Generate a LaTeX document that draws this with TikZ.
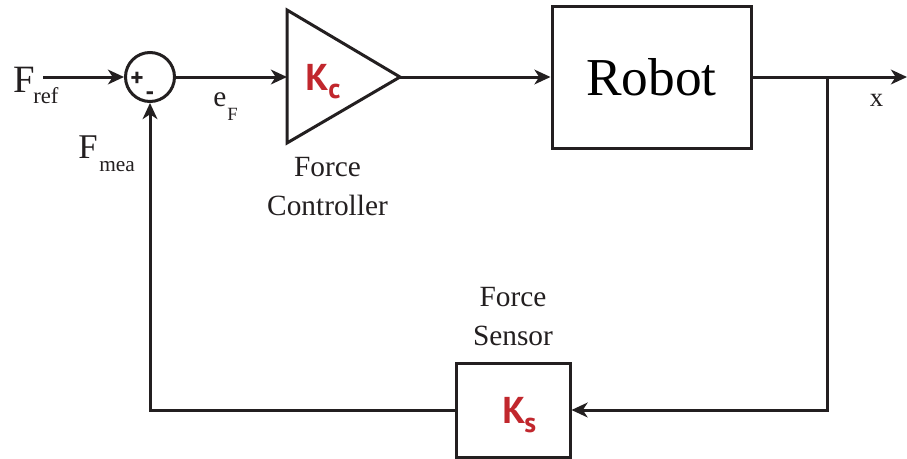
\documentclass[tikz,border=0pt]{standalone}
\usepackage{fontspec}
\setmainfont{Liberation Serif}
\newfontfamily\ksans{PT Sans}
\usetikzlibrary{arrows.meta}
\definecolor{kred}{HTML}{C1272D}
\definecolor{ink}{HTML}{231F20}
\begin{document}
\begin{tikzpicture}[x=0.75pt,y=-0.75pt,
  wire/.style={line width=2.25pt, draw=ink},
  arr/.style={wire,-{Stealth[length=12pt,width=11pt,inset=3.5pt]}},
  blk/.style={draw=ink, line width=2.25pt, fill=white, inner sep=0pt},
  lbl/.style={inner sep=0pt, anchor=base west, text=ink},
  captxt/.style={inner sep=0pt, anchor=base, text=ink, font=\fontsize{22}{22}\selectfont},
  gain/.style={text=kred, font=\ksans\bfseries\fontsize{28}{28}\selectfont, inner sep=0pt, anchor=base west},
  gsub/.style={text=kred, font=\ksans\bfseries\fontsize{21}{21}\selectfont, inner sep=0pt, anchor=base west},
  sign/.style={text=ink, font=\ksans\bfseries\fontsize{19}{19}\selectfont, inner sep=0pt}]
\useasboundingbox (0,0) rectangle (907,458);
\fill[white] (0,0) rectangle (907,458);

% summing junction
\node[circle, draw=ink, line width=2.25pt, minimum size=36.75pt, inner sep=0pt] (sum) at (150,77) {};
\node[sign] (plus) at (137,79) {+};
\node[sign] (minus) at (150,96) {-};

% controller triangle
\coordinate (trL) at (287,77);
\coordinate (trR) at (400,77);
\draw[wire, line join=miter] (287,10) -- (trR) -- (287,143) -- cycle;
\node[gain] (Kc) at (305,90) {K};
\node[gsub] (Kcs) at (328,98) {c};

% robot
\node[blk, minimum width=149.25pt, minimum height=106.5pt, font=\fontsize{40}{40}\selectfont] (robot) at (651.5,77) {Robot};

% sensor
\node[blk, minimum width=85.5pt, minimum height=70.5pt] (sens) at (513,410) {};
\node[gain] (Ks) at (502,423) {K};
\node[gsub] (Kss) at (524,432) {s};

% coordinates
\coordinate (in) at (43,77);
\coordinate (br) at (827,77);
\coordinate (out) at (907,77);
\coordinate (brd) at (827,410);
\coordinate (fbl) at (150,410);

% connectors
\draw[arr] (in) -- (sum.west);
\draw[arr] (sum.east) -- (trL);
\draw[arr] (trR) -- (robot.west);
\draw[arr] (robot.east) -- (out);
\draw[arr, line join=miter] (br) -- (brd) -- (sens.east);
\draw[arr, line join=miter] (sens.west) -- (fbl) -- (sum.south);

% labels
\node[lbl, font=\fontsize{29}{29}\selectfont] (Fref) at (13,92) {F};
\node[lbl, font=\fontsize{17}{17}\selectfont] (Frefs) at (33,103) {ref};
\node[lbl, font=\fontsize{26}{26}\selectfont] (Fmea) at (78,158) {F};
\node[lbl, font=\fontsize{16}{16}\selectfont] (Fmeas) at (99,171.5) {mea};
\node[lbl, font=\fontsize{22}{22}\selectfont] (eF) at (213,106.7) {e};
\node[lbl, font=\fontsize{14}{14}\selectfont] (eFs) at (227,120) {F};
\node[captxt, font=\fontsize{20}{20}\selectfont] (xlab) at (876.5,106.7) {x};
\node[captxt] (fc1) at (327.5,176.7) {Force};
\node[captxt] (fc2) at (327.5,215) {Controller};
\node[captxt] (fs1) at (513,306.7) {Force};
\node[captxt] (fs2) at (513,345) {Sensor};
\end{tikzpicture}
\end{document}
